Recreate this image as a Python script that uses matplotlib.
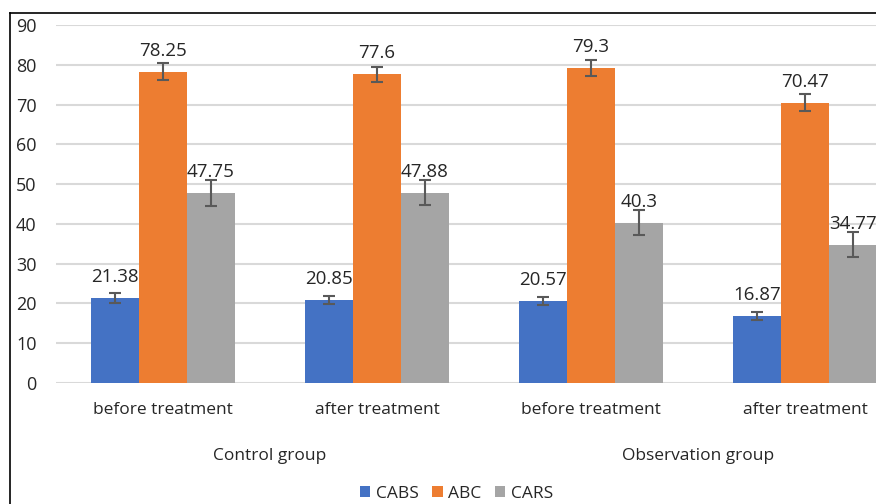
import numpy as np
import matplotlib
matplotlib.use("Agg")
import matplotlib.pyplot as plt
from matplotlib.lines import Line2D
from matplotlib.patches import Patch

plt.rcParams['font.family'] = ['Open Sans', 'DejaVu Sans']

# 数据
subgroups = ['before treatment', 'after treatment', 'before treatment', 'after treatment']
groups = ['Control group', 'Observation group']
series = ['CABS', 'ABC', 'CARS']
cabs = [21.38, 20.85, 20.57, 16.87]
abc = [78.25, 77.6, 79.3, 70.47]
cars = [47.75, 47.88, 40.3, 34.77]
cabs_err = [1.15, 1.05, 1.05, 1.05]
abc_err = [2.1, 1.95, 2.0, 2.1]
cars_err = [3.2, 3.2, 3.2, 3.2]
colors = ['#4472C4', '#ED7D31', '#A5A5A5']

values = [cabs, abc, cars]
errors = [cabs_err, abc_err, cars_err]

fig = plt.figure(figsize=(8.76, 5.04), dpi=100)
# 坐标区右侧超出画布（原图被裁剪）
ax = fig.add_axes([56 / 876, 121 / 504, 856 / 876, 358 / 504])

x = np.arange(len(subgroups))
width = 0.224
for i, (vals, errs, c) in enumerate(zip(values, errors, colors)):
    pos = x + (i - 1) * width
    ax.bar(pos, vals, width, color=c, zorder=2, label=series[i])
    ax.errorbar(pos, vals, yerr=errs, fmt='none', ecolor='#595959',
                elinewidth=1.5, capsize=4, capthick=1.5, zorder=3)
    for px, v in zip(pos, vals):
        ax.annotate(f'{v:g}', (px, v), xytext=(0, 11.5), textcoords='offset points',
                    ha='center', va='baseline', fontsize=13.5, color='#262626', zorder=4)

ax.set_xlim(-0.5, len(subgroups) - 0.5)
ax.set_ylim(0, 90)
ax.set_yticks(range(0, 91, 10))
ax.yaxis.grid(True, color='#d9d9d9', linewidth=1.5, zorder=0)
ax.set_axisbelow(True)
for s in ax.spines.values():
    s.set_visible(False)
ax.tick_params(axis='y', length=0, pad=14, labelsize=13, labelcolor='#262626')
ax.set_xticks(x)
ax.set_xticklabels(subgroups)
ax.tick_params(axis='x', length=0, pad=14, labelsize=12.5, labelcolor='#262626')

# 分组标签
for j, g in enumerate(groups):
    ax.text(2 * j + 0.5, -0.215, g, transform=ax.get_xaxis_transform(),
            ha='center', va='baseline', fontsize=12.5, color='#262626')

# 图例
handles = [Patch(facecolor=c) for c in colors]
fig.legend(handles, series, loc='center', bbox_to_anchor=(0.521, 0.02), ncol=3,
           frameon=False, fontsize=12.5, handlelength=0.6, handleheight=0.6,
           handletextpad=0.3, columnspacing=0.8, labelcolor='#262626',
           borderpad=0.1)

# 外框（左、上）
fig.add_artist(Line2D([10 / 876, 10 / 876], [0, 491 / 504], color='black', linewidth=1.2,
                      transform=fig.transFigure))
fig.add_artist(Line2D([10 / 876, 1], [491 / 504, 491 / 504], color='black', linewidth=1.2,
                      transform=fig.transFigure))

fig.savefig('out.png', dpi=100)
